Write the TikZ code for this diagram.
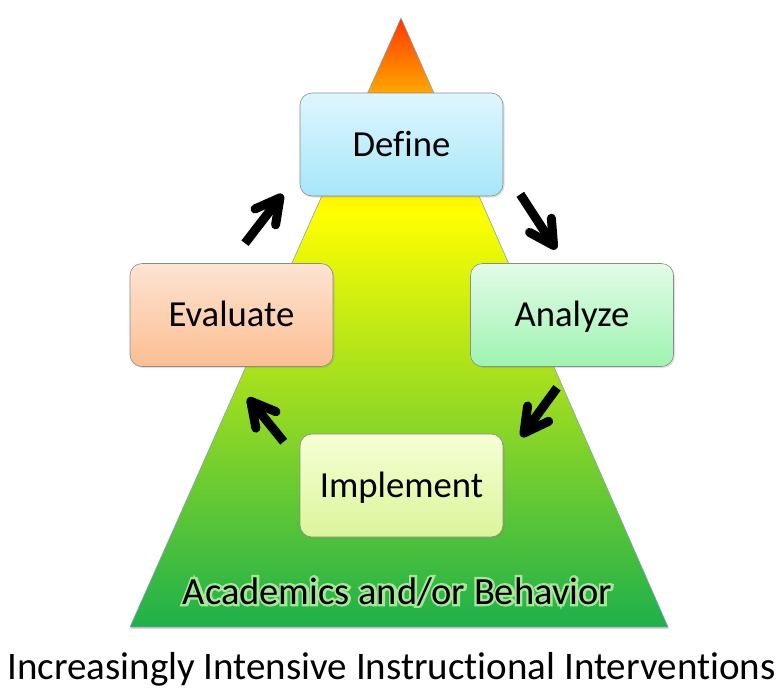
\documentclass[tikz,border=0pt]{standalone}
\usepackage{fontspec}
\setmainfont[Ligatures={NoCommon,NoContextual}]{Carlito}
\newfontfamily\glowfont[FakeBold=12,Ligatures={NoCommon,NoContextual}]{Carlito}
\usepackage{xcolor}
\usepackage{tikz}
\usetikzlibrary{shadows}
\usetikzlibrary{positioning}
\usetikzlibrary{arrows.meta,calc}

% pyramid colours
\definecolor{pyrred}{RGB}{255,55,0}
\definecolor{pyrorange}{RGB}{255,165,0}
\definecolor{pyryellow}{RGB}{255,255,0}
\definecolor{pyrgreen}{RGB}{30,176,75}
\definecolor{pyredge}{RGB}{140,160,190}
\definecolor{glowgreen}{RGB}{165,232,150}
% box colours
\definecolor{topdef}{RGB}{223,246,253}
\definecolor{botdef}{RGB}{166,231,250}
\definecolor{topeva}{RGB}{253,228,210}
\definecolor{boteva}{RGB}{251,190,146}
\definecolor{topana}{RGB}{227,251,232}
\definecolor{botana}{RGB}{158,244,176}
\definecolor{topimp}{RGB}{246,255,212}
\definecolor{botimp}{RGB}{219,245,154}

\pgfdeclareverticalshading{pyramid}{100bp}{color(0bp)=(pyrgreen); color(25bp)=(pyrgreen); color(59bp)=(pyryellow); color(69bp)=(pyrorange); color(75bp)=(pyrred); color(100bp)=(pyrred)}

% text with a soft outline behind it
\newcommand{\glowed}[1]{\rlap{\glowfont\textcolor{glowgreen}{#1}}#1}

\tikzset{
  stepbox/.style={draw=black!45, line width=0.6pt, rounded corners=12pt,
    minimum width=203pt, minimum height=103pt, inner sep=0pt,
    font=\fontsize{36.7}{40}\selectfont, text height=23.5pt, text depth=0pt,
    drop shadow={shadow xshift=1.5pt, shadow yshift=-1.5pt, opacity=0.25}},
  cyclearrow/.style={line width=9pt, -{Straight Barb[length=24pt,width=26pt,round]}},
  bigtext/.style={font=\fontsize{38.5}{42}\selectfont, anchor=base, inner sep=0pt}
}

\begin{document}
\begin{tikzpicture}[x=1pt, y=-1pt]
 \useasboundingbox (0,0) rectangle (784,691);

 %pyramid
 \shade[shading=pyramid, draw=pyredge, line width=0.6pt,
   drop shadow={shadow xshift=1pt, shadow yshift=-2pt, opacity=0.3}]
   (401,18) -- (668,627) -- (130,627) -- cycle;

 %boxes
 \foreach \name/\cx/\cy/\col in {Define/401.5/144.5/def, Evaluate/231.5/315/eva,
                                 Analyze/572/315/ana, Implement/401.5/485.5/imp} {
   \node[stepbox, top color=top\col, bottom color=bot\col] (\name) at (\cx,\cy) {\name};
 }

 %arrow ends
 \coordinate (evaTail) at ([shift={(13.5,-20)}]Evaluate.north);
 \coordinate (defTip)  at ([shift={(-17,-2)}]Define.south west);
 \coordinate (defTail) at ([shift={(17,-2)}]Define.south east);
 \coordinate (anaTip)  at ([shift={(-16,-14)}]Analyze.north);
 \coordinate (anaTail) at ([shift={(-15,21)}]Analyze.south);
 \coordinate (impTip)  at ([shift={(18,3)}]Implement.north east);
 \coordinate (impTail) at ([shift={(-16,8)}]Implement.north west);
 \coordinate (evaTip)  at ([shift={(16.5,31)}]Evaluate.south);

 %arrows
 \draw[cyclearrow] (evaTail) -- (defTip);
 \draw[cyclearrow] (defTail) -- (anaTip);
 \draw[cyclearrow] (anaTail) -- (impTip);
 \draw[cyclearrow] (impTail) -- (evaTip);

 %label on the pyramid
 \node[bigtext] (academics) at (397.5,604) {\glowed{Academics and/or Behavior}};

 %caption
 \node[bigtext, font=\fontsize{39}{42}\selectfont] (caption) at (391.5,679) {Increasingly Intensive Instructional Interventions};

\end{tikzpicture}
\end{document}
